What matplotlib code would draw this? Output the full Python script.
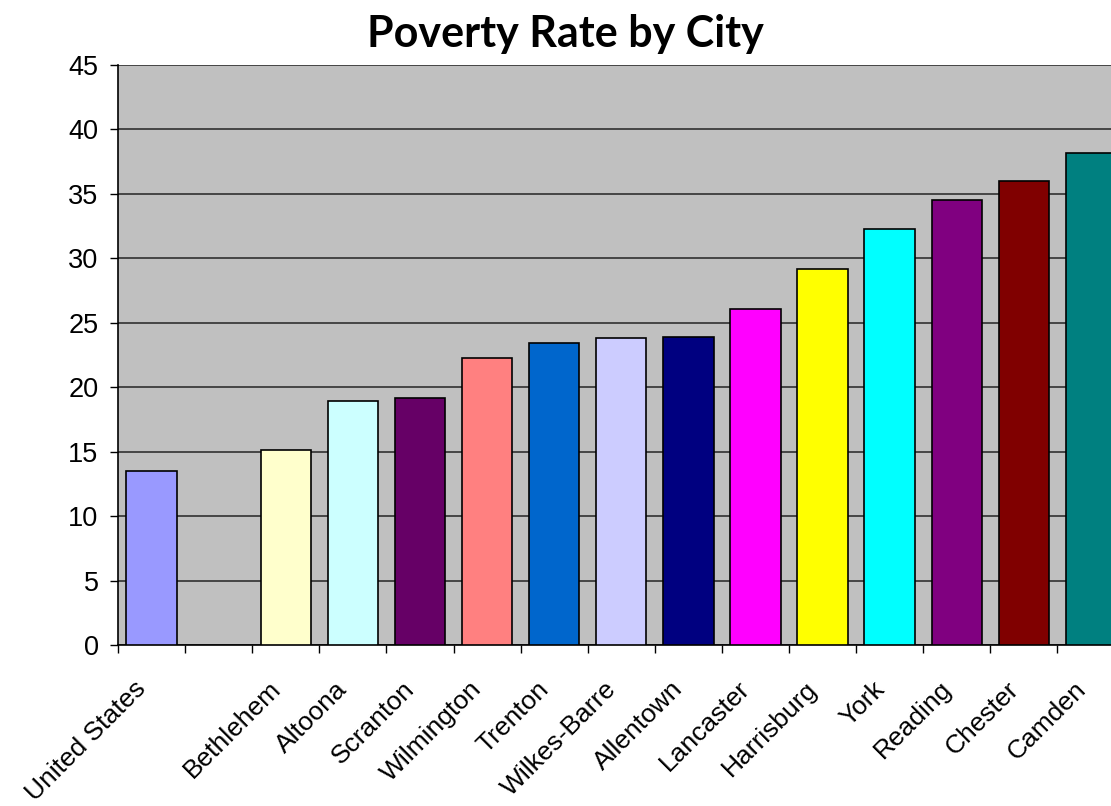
import numpy as np
import matplotlib.pyplot as plt
import matplotlib.transforms as mtransforms

cities = ["United States", "", "Bethlehem", "Altoona", "Scranton", "Wilmington",
          "Trenton", "Wilkes-Barre", "Allentown", "Lancaster", "Harrisburg",
          "York", "Reading", "Chester", "Camden"]
rates = [13.5, np.nan, 15.1, 18.9, 19.2, 22.3, 23.4, 23.8, 23.9, 26.1, 29.2,
         32.3, 34.5, 36.0, 38.2]
colors = ["#9999FF", "#993366", "#FFFFCC", "#CCFFFF", "#660066", "#FF8080",
          "#0066CC", "#CCCCFF", "#000080", "#FF00FF", "#FFFF00", "#00FFFF",
          "#800080", "#800000", "#008080"]
yticks = [0, 5, 10, 15, 20, 25, 30, 35, 40, 45]

plt.rcParams['font.family'] = ['Liberation Sans', 'DejaVu Sans']

fig = plt.figure(figsize=(11.11, 8.06), dpi=100)
ax = fig.add_axes([118 / 1111, 161 / 806, 1006.5 / 1111, 580 / 806])
ax.set_facecolor("#C0C0C0")

x = np.arange(len(cities))
ax.set_axisbelow(True)
ax.yaxis.grid(True, color="#303030", linewidth=1.2)
ax.bar(x, rates, width=0.75, color=colors, edgecolor="black", linewidth=1.2,
       zorder=3)

ax.set_xlim(-0.5, len(cities) - 0.5)
ax.set_ylim(0, 45)
ax.set_yticks(yticks)
ax.tick_params(axis='y', labelsize=19.5, length=6, width=1, pad=8)

ax.set_xticks(x)
ax.set_xticklabels(cities, rotation=45, ha='right', va='center',
                   rotation_mode='anchor', fontsize=19)
ax.tick_params(axis='x', length=0, pad=29)
ax.set_xticks(np.arange(-0.5, len(cities)), minor=True)
ax.tick_params(axis='x', which='minor', length=6, width=1)

# nudge the rotated labels to the left, like the original
shift = mtransforms.ScaledTranslation(-0.09, 0, fig.dpi_scale_trans)
for lbl in ax.get_xticklabels():
    lbl.set_transform(lbl.get_transform() + shift)

for side in ["top", "right"]:
    ax.spines[side].set_visible(False)
ax.spines["left"].set_linewidth(1.2)
ax.spines["bottom"].set_linewidth(1.2)

fig.text(565 / 1111, 1 - 47 / 806, "Poverty Rate by City", ha='center',
         va='baseline', fontsize=31, fontweight='bold',
         family=['Lato', 'DejaVu Sans'])

plt.savefig("out.png", dpi=100)
